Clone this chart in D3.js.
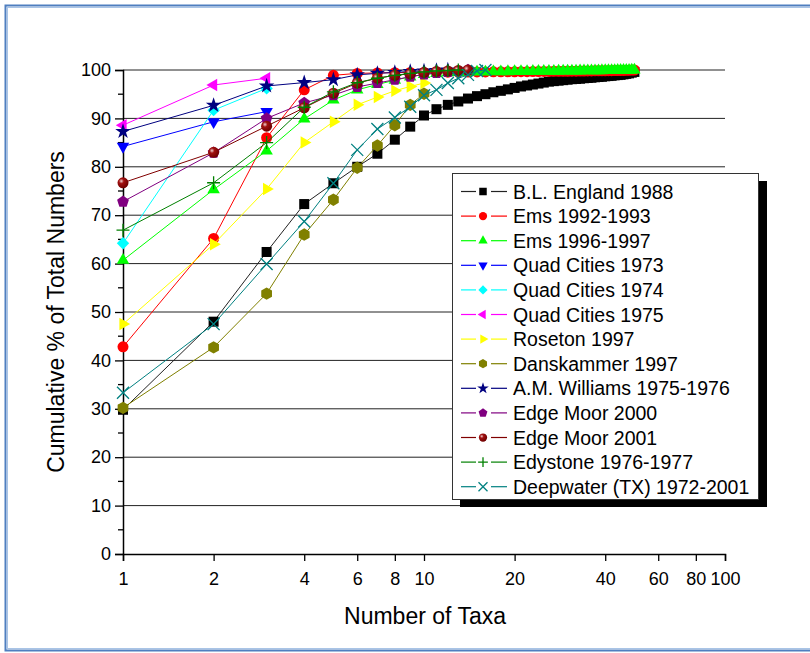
<!DOCTYPE html>
<html><head><meta charset="utf-8">
<script src="https://cdn.jsdelivr.net/npm/d3@7"></script>
<style>
body{margin:0;background:#fff}
svg{display:block}
text{font-family:"Liberation Sans",Arial,sans-serif;fill:#000}
</style></head>
<body><svg id="c" width="810" height="653"></svg>
<script>
// ---------- DATA ----------
const taxa = [1,2,3,4,5,6,7,8,9,10,11,12,13,14,15,16,17,18,19,20,21,22,23,24,25,26,27,28,29,30,31,32,33,34,35,36,37,38,39,40,41,42,43,44,45,46,47,48,49,50];
const xTicks = [1,2,4,6,8,10,20,40,60,80,100];
const yTicks = [0,10,20,30,40,50,60,70,80,90,100];
const seriesNames = ["B.L. England 1988","Ems 1992-1993","Ems 1996-1997","Quad Cities 1973","Quad Cities 1974","Quad Cities 1975","Roseton 1997","Danskammer 1997","A.M. Williams 1975-1976","Edge Moor 2000","Edge Moor 2001","Edystone 1976-1977","Deepwater (TX) 1972-2001"];
const blEngland = [29.8,48.0,62.4,72.3,76.6,80.0,82.7,85.6,88.3,90.6,91.9,92.8,93.5,94.1,94.6,95.0,95.4,95.7,96.0,96.3,96.6,96.8,97.0,97.2,97.4,97.6,97.7,97.8,97.9,98.0,98.1,98.15,98.2,98.3,98.35,98.4,98.5,98.55,98.6,98.7,98.75,98.8,98.9,98.95,99.0,99.1,99.2,99.3,99.45,99.6];
const ems9293 = [42.8,65.2,86.0,95.9,98.9,99.3,99.4,99.45,99.5,99.5,99.52,99.54,99.56,99.58,99.6,99.6,99.62,99.62,99.64,99.64,99.66,99.66,99.68,99.68,99.7,99.7,99.72,99.72,99.74,99.74,99.76,99.76,99.78,99.78,99.8,99.8,99.82,99.82,99.84,99.84,99.86,99.86,99.88,99.88,99.9,99.92,99.94,99.96,99.98,100];
const ems9697 = [60.7,75.3,83.3,89.9,93.8,95.9,97.0,97.9,98.6,99.1,99.3,99.45,99.5,99.55,99.6,99.62,99.64,99.66,99.68,99.7,99.71,99.72,99.73,99.74,99.75,99.76,99.77,99.78,99.79,99.8,99.81,99.82,99.83,99.84,99.85,99.86,99.87,99.88,99.89,99.9,99.91,99.92,99.93,99.94,99.95,99.96,99.97,99.98,99.99,100];
const quad73 = [84.2,89.3,91.4];
const quad74 = [64.2,91.7,96.2];
const quad75 = [88.6,96.9,98.3];
const roseton = [47.5,64.0,75.4,85.0,89.3,92.8,94.4,95.7,96.6,97.3];
const danskammer = [30.2,42.7,53.8,66.0,73.2,79.8,84.4,88.6,92.8,95.1];
const amWilliams = [87.3,92.7,96.7,97.4,98.0,99.0,99.3,99.5,99.7,99.8,99.9,100];
const edgeMoor2000 = [72.8,82.9,90.0,93.2,94.8,96.5,97.3,98.0,98.6,99.1,99.4,99.6,99.8,100];
const edgeMoor2001 = [76.7,83.0,88.4,92.2,95.2,97.3,98.3,98.9,99.2,99.5,99.7,99.8,99.9,100];
const edystone = [66.9,76.7,85.0,92.3,95.5,97.4,98.3,98.9,99.3,99.6,99.8,99.9,100];
const deepwater = [33.3,47.5,59.9,68.7,76.6,83.5,87.8,90.2,92.4,94.8,95.9,97.3,98.3,99.0,99.8,100];
const seriesValues = [blEngland,ems9293,ems9697,quad73,quad74,quad75,roseton,danskammer,amWilliams,edgeMoor2000,edgeMoor2001,edystone,deepwater];

// ---------- STYLE ----------
const colors = ["#000000","#ff0000","#00ff00","#0000ff","#00ffff","#ff00ff","#ffff00","#808000","#000080","#800080","#800000","#008000","#008080"];
const lineColors = ["#222222","#ff0000","#00ff00","#0000ff","#00ffff","#ff00ff","#ffff00","#808000","#000080","#800080","#800000","#008000","#008080"];
const shapes = ["square","circle","triUp","triDown","diamond","triLeft","triRight","hexagon","star","pentagon","sphere","plus","cross"];

const svg = d3.select("#c");
const defs = svg.append("defs");
const grad = defs.append("radialGradient").attr("id","sph").attr("cx","0.35").attr("cy","0.35").attr("r","0.65");
grad.append("stop").attr("offset","0").attr("stop-color","#f0d0d0");
grad.append("stop").attr("offset","0.35").attr("stop-color","#a01010");
grad.append("stop").attr("offset","1").attr("stop-color","#700000");

// frame
svg.append("rect").attr("x",5.5).attr("y",5.5).attr("width",830).attr("height",645)
  .attr("fill","none").attr("stroke","#4f7fc0").attr("stroke-width",2);
svg.append("rect").attr("x",7.5).attr("y",7.5).attr("width",830).attr("height",641)
  .attr("fill","none").attr("stroke","#a9c4e6").attr("stroke-width",1);

const x = d3.scaleLog().domain([1,100]).range([123,725]);
const y = d3.scaleLinear().domain([0,100]).range([554,70]);

// grid
svg.append("g").selectAll("line").data(yTicks.filter(d=>d>0)).join("line")
  .attr("x1",x(1)).attr("x2",x(100)).attr("y1",d=>y(d)).attr("y2",d=>y(d))
  .attr("stroke","#222").attr("stroke-width",1);

// axes
const yAxis = d3.axisLeft(y).tickValues(yTicks).tickSize(8).tickPadding(4);
const gy = svg.append("g").attr("transform",`translate(${x(1)},0)`).call(yAxis);
gy.select(".domain").attr("stroke","#000").attr("stroke-width",1.5);
gy.selectAll(".tick line").attr("stroke","#000").attr("stroke-width",1.3);
gy.selectAll(".tick text").attr("font-size",18).attr("font-family","Liberation Sans, Arial, sans-serif");
const minorY = d3.range(0,10).map(i=>5+10*i);
svg.append("g").selectAll("line").data(minorY).join("line")
  .attr("x1",x(1)-5).attr("x2",x(1)).attr("y1",d=>y(d)).attr("y2",d=>y(d)).attr("stroke","#000").attr("stroke-width",1.3);

const xAxis = d3.axisBottom(x).tickValues(xTicks).tickFormat(d3.format("d")).tickSize(7).tickPadding(11);
const gx = svg.append("g").attr("transform",`translate(0,${y(0)})`).call(xAxis);
gx.select(".domain").attr("stroke","#000").attr("stroke-width",1.5);
gx.selectAll(".tick line").attr("stroke","#000").attr("stroke-width",1.3);
gx.selectAll(".tick text").attr("font-size",18).attr("font-family","Liberation Sans, Arial, sans-serif");

// axis titles
svg.append("text").attr("x",425).attr("y",624).attr("text-anchor","middle").attr("font-size",23).text("Number of Taxa");
svg.append("text").attr("transform","translate(64,312) rotate(-90)").attr("text-anchor","middle").attr("font-size",23).text("Cumulative % of Total Numbers");

// marker generator
function poly(n, r, startDeg){
  const p=[];
  for(let i=0;i<n;i++){const a=(startDeg+360*i/n)*Math.PI/180;p.push([r*Math.cos(a),r*Math.sin(a)]);}
  return "M"+p.map(q=>q[0].toFixed(2)+","+q[1].toFixed(2)).join("L")+"Z";
}
function drawMarker(g, shape, color, cx, cy, k){
  const s = 10*k;
  if(shape==="square"){
    g.append("rect").attr("x",cx-s/2).attr("y",cy-s/2).attr("width",s).attr("height",s).attr("fill",color);
  } else if(shape==="circle"){
    g.append("circle").attr("cx",cx).attr("cy",cy).attr("r",s*0.55).attr("fill",color);
  } else if(shape==="sphere"){
    g.append("circle").attr("cx",cx).attr("cy",cy).attr("r",s*0.55).attr("fill","url(#sph)");
  } else if(shape==="triUp"){
    g.append("path").attr("transform",`translate(${cx},${cy})`).attr("d",poly(3,s*0.72,-90)).attr("fill",color);
  } else if(shape==="triDown"){
    g.append("path").attr("transform",`translate(${cx},${cy})`).attr("d",poly(3,s*0.72,90)).attr("fill",color);
  } else if(shape==="triLeft"){
    g.append("path").attr("transform",`translate(${cx},${cy})`).attr("d",poly(3,s*0.72,180)).attr("fill",color);
  } else if(shape==="triRight"){
    g.append("path").attr("transform",`translate(${cx},${cy})`).attr("d",poly(3,s*0.72,0)).attr("fill",color);
  } else if(shape==="diamond"){
    g.append("path").attr("transform",`translate(${cx},${cy})`).attr("d",poly(4,s*0.62,-90)).attr("fill",color);
  } else if(shape==="hexagon"){
    g.append("path").attr("transform",`translate(${cx},${cy})`).attr("d",poly(6,s*0.62,-90)).attr("fill",color);
  } else if(shape==="pentagon"){
    g.append("path").attr("transform",`translate(${cx},${cy})`).attr("d",poly(5,s*0.62,-90)).attr("fill",color);
  } else if(shape==="star"){
    g.append("path").attr("transform",`translate(${cx},${cy})`).attr("d",d3.symbol(d3.symbolStar, 75*k*k)()).attr("fill",color);
  } else if(shape==="plus"){
    const h=s*0.65;
    g.append("path").attr("d",`M${cx-h},${cy}H${cx+h}M${cx},${cy-h}V${cy+h}`).attr("stroke",color).attr("stroke-width",1.3).attr("fill","none");
  } else if(shape==="cross"){
    const h=s*0.6;
    g.append("path").attr("d",`M${cx-h},${cy-h}L${cx+h},${cy+h}M${cx-h},${cy+h}L${cx+h},${cy-h}`).attr("stroke",color).attr("stroke-width",1.3).attr("fill","none");
  }
}

// series
const line = d3.line().x(d=>x(d[0])).y(d=>y(d[1]));
const plot = svg.append("g");
seriesValues.forEach((vals,i)=>{
  const pts = vals.map((v,j)=>[taxa[j],v]);
  const g = plot.append("g");
  g.append("path").attr("d",line(pts)).attr("fill","none").attr("stroke",lineColors[i]).attr("stroke-width",1);
  pts.forEach(p=>drawMarker(g, shapes[i], colors[i], x(p[0]), y(p[1]), 1));
});

// legend
const lg = svg.append("g");
lg.append("rect").attr("x",460).attr("y",181).attr("width",307).attr("height",326).attr("fill","#000");
lg.append("rect").attr("x",452.5).attr("y",173.5).attr("width",306).attr("height",326).attr("fill","#fff").attr("stroke","#333").attr("stroke-width",1);
seriesNames.forEach((name,i)=>{
  const cy = 191.5 + i*24.6;
  lg.append("line").attr("x1",461).attr("x2",476).attr("y1",cy).attr("y2",cy).attr("stroke",lineColors[i]).attr("stroke-width",1.2);
  lg.append("line").attr("x1",491).attr("x2",507).attr("y1",cy).attr("y2",cy).attr("stroke",lineColors[i]).attr("stroke-width",1.2);
  drawMarker(lg, shapes[i], colors[i], 483, cy, 0.75);
  lg.append("text").attr("x",513).attr("y",cy+7).attr("font-size",19.5).text(name);
});
</script></body></html>
